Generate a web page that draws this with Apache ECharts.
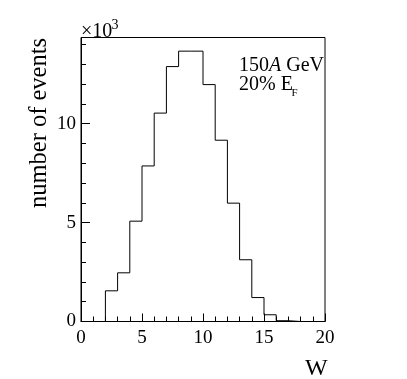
<!DOCTYPE html>
<html><head><meta charset="utf-8">
<script src="https://cdn.jsdelivr.net/npm/echarts@6/dist/echarts.min.js"></script>
<style>html,body{margin:0;padding:0;background:#fff}#c{width:407px;height:379px}</style>
</head><body><div id="c"></div>
<script>
const binEdges = [0,1,2,3,4,5,6,7,8,9,10,11,12,13,14,15,16,17,18,19,20];
const counts = [0,0,1550,2460,5070,7860,10530,12880,13660,13660,11970,9160,5980,3120,1210,340,40,0,0,0];
const yTickLabels = ['0','5','10'];
const xTickLabels = ['0','5','10','15','20'];

const pts = counts.map((v,i)=>[binEdges[i], v]);
pts.push([binEdges[binEdges.length-1], counts[counts.length-1]]);

const F = 'Liberation Serif';
const chart = echarts.init(document.getElementById('c'), null, {renderer:'canvas'});
chart.setOption({
  animation:false,
  backgroundColor:'#fff',
  grid:{left:81, top:37.5, width:244, height:284, show:true, borderColor:'#000', borderWidth:1, backgroundColor:'transparent'},
  xAxis:{type:'value', min:0, max:20, interval:5,
    axisLine:{lineStyle:{color:'#000', width:1}},
    axisTick:{inside:true, length:8, lineStyle:{color:'#000'}},
    minorTick:{show:true, splitNumber:5, length:5, lineStyle:{color:'#000'}},
    splitLine:{show:false},
    axisLabel:{color:'#000', fontFamily:F, fontSize:19, margin:7,
      formatter:v=>xTickLabels[v/5]}},
  yAxis:{type:'value', min:0, max:14350, interval:5000,
    axisLine:{show:true, lineStyle:{color:'#000', width:1}},
    axisTick:{inside:true, length:9, lineStyle:{color:'#000'}},
    minorTick:{show:true, splitNumber:5, length:5, lineStyle:{color:'#000'}},
    splitLine:{show:false},
    axisLabel:{color:'#000', fontFamily:F, fontSize:19, margin:5,
      formatter:v=>yTickLabels[v/5000]}},
  series:[{type:'line', step:'end', data:pts, symbol:'none',
    lineStyle:{color:'#000', width:1}}],
  graphic:[
    {type:'text', x:81, y:22, style:{text:'×10', fontFamily:F, fontSize:20, fill:'#000'}},
    {type:'text', x:111.5, y:18, style:{text:'3', fontFamily:F, fontSize:14, fill:'#000'}},
    {type:'text', x:27, y:208, rotation:Math.PI/2, style:{text:'number of events', fontFamily:F, fontSize:24.5, fill:'#000'}},
    {type:'text', x:305, y:357, style:{text:'W', fontFamily:F, fontSize:24, fill:'#000'}},
    {type:'text', x:239, y:56, style:{text:'150{i|A} GeV', fontFamily:F, fontSize:20, fill:'#000',
      rich:{i:{fontFamily:F, fontSize:20, fontStyle:'italic'}}}},
    {type:'text', x:239, y:75, style:{text:'20% E', fontFamily:F, fontSize:20, fill:'#000'}},
    {type:'text', x:291.5, y:88, style:{text:'F', fontFamily:F, fontSize:11, fill:'#000'}}
  ]
});
</script></body></html>
